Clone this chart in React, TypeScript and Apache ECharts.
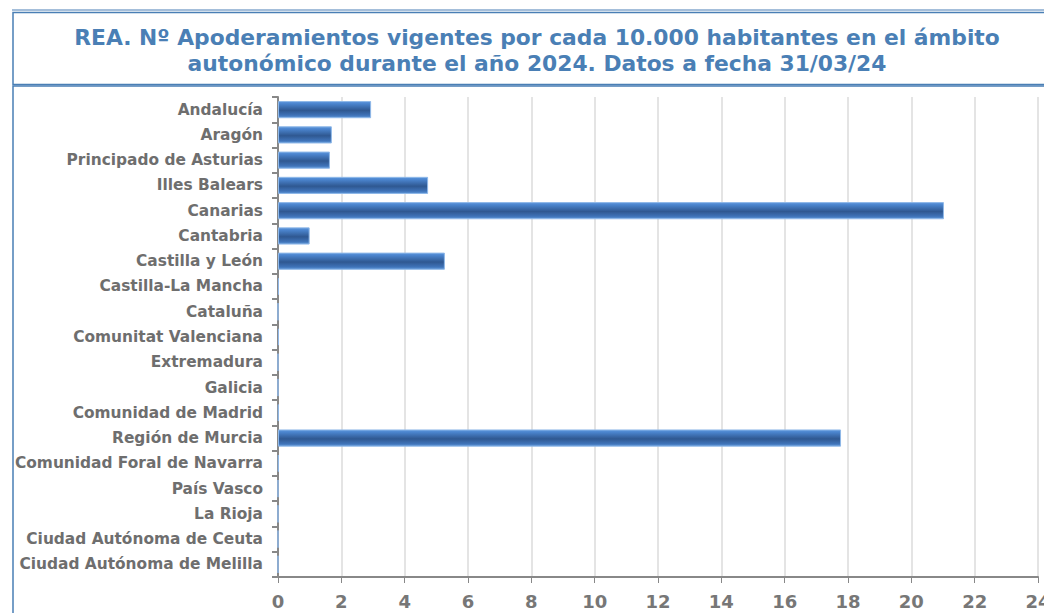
import React, { useEffect, useRef } from "react";
import * as echarts from "echarts";

const categories = [
  "Andalucía",
  "Aragón",
  "Principado de Asturias",
  "Illes Balears",
  "Canarias",
  "Cantabria",
  "Castilla y León",
  "Castilla-La Mancha",
  "Cataluña",
  "Comunitat Valenciana",
  "Extremadura",
  "Galicia",
  "Comunidad de Madrid",
  "Región de Murcia",
  "Comunidad Foral de Navarra",
  "País Vasco",
  "La Rioja",
  "Ciudad Autónoma de Ceuta",
  "Ciudad Autónoma de Melilla",
];
const values = [2.94, 1.7, 1.64, 4.74, 21.03, 1.0, 5.27, 0.03, 0, 0.03, 0, 0, 0.02, 17.78, 0.02, 0, 0, 0, 0];
const xTicks = { min: 0, max: 24, interval: 2 };
const titleLines = [
  "REA. Nº Apoderamientos vigentes por cada 10.000 habitantes en el ámbito",
  "autonómico durante el año 2024. Datos a fecha 31/03/24",
];

export default function App() {
  const ref = useRef<HTMLDivElement>(null);
  useEffect(() => {
    if (!ref.current) return;
    const chart = echarts.init(ref.current, null, { renderer: "svg" });
    const barColor = new echarts.graphic.LinearGradient(0, 0, 0, 1, [
      { offset: 0, color: "#5b95dc" },
      { offset: 0.15, color: "#4a83cc" },
      { offset: 0.55, color: "#2f5891" },
      { offset: 0.85, color: "#3f73b8" },
      { offset: 1, color: "#5f97d8" },
    ]);
    chart.setOption({
      animation: false,
      backgroundColor: "#ffffff",
      textStyle: { fontFamily: "DejaVu Sans" },
      graphic: [
        {
          type: "line",
          shape: { x1: 12, y1: 10, x2: 1044, y2: 10 },
          style: { stroke: "#4a7fb5", lineWidth: 1.2 },
          silent: true,
        },
        {
          type: "rect",
          shape: { x: 13, y: 12.5, width: 1050, height: 72 },
          style: { fill: "none", stroke: "#4a7fb5", lineWidth: 1.5 },
          silent: true,
        },
        {
          type: "rect",
          shape: { x: 13, y: 86, width: 1050, height: 540 },
          style: { fill: "none", stroke: "#4a7fb5", lineWidth: 1.5 },
          silent: true,
        },
        {
          type: "text",
          x: 537,
          y: 37,
          style: {
            text: titleLines[0],
            fill: "#4a7fb5",
            font: "bold 21.8px 'DejaVu Sans'",
            align: "center",
            verticalAlign: "middle",
          },
          silent: true,
        },
        {
          type: "text",
          x: 537,
          y: 63,
          style: {
            text: titleLines[1],
            fill: "#4a7fb5",
            font: "bold 21.8px 'DejaVu Sans'",
            align: "center",
            verticalAlign: "middle",
          },
          silent: true,
        },
      ],
      grid: {
        left: 278,
        right: 6,
        top: 97,
        bottom: 36,
        containLabel: false,
        outerBoundsMode: "none",
      },
      xAxis: {
        type: "value",
        min: xTicks.min,
        max: xTicks.max,
        interval: xTicks.interval,
        axisLine: { show: true, lineStyle: { color: "#888888", width: 2 } },
        axisTick: { show: true, length: 6, lineStyle: { color: "#888888" } },
        splitLine: { show: true, lineStyle: { color: "#e4e4e4", width: 2 } },
        axisLabel: {
          color: "#777777",
          fontSize: 18,
          fontWeight: "bold",
          fontFamily: "DejaVu Sans",
          margin: 15,
          hideOverlap: false,
        },
      },
      yAxis: {
        type: "category",
        data: categories,
        inverse: true,
        axisLine: { show: true, lineStyle: { color: "#888888", width: 2 } },
        axisTick: { show: true, length: 6, lineStyle: { color: "#888888", width: 2 } },
        splitLine: { show: false },
        axisLabel: {
          color: "#6e6e6e",
          fontSize: 15.4,
          fontWeight: "bold",
          fontFamily: "DejaVu Sans",
          margin: 15,
        },
      },
      series: [
        {
          type: "bar",
          data: values,
          barWidth: "68%",
          itemStyle: { color: barColor, borderColor: "#8fb8e8", borderWidth: 1 },
        },
      ],
    });
    return () => chart.dispose();
  }, []);
  return <div ref={ref} style={{ width: 1044, height: 613, position: "absolute", left: 0, top: 0 }} />;
}
